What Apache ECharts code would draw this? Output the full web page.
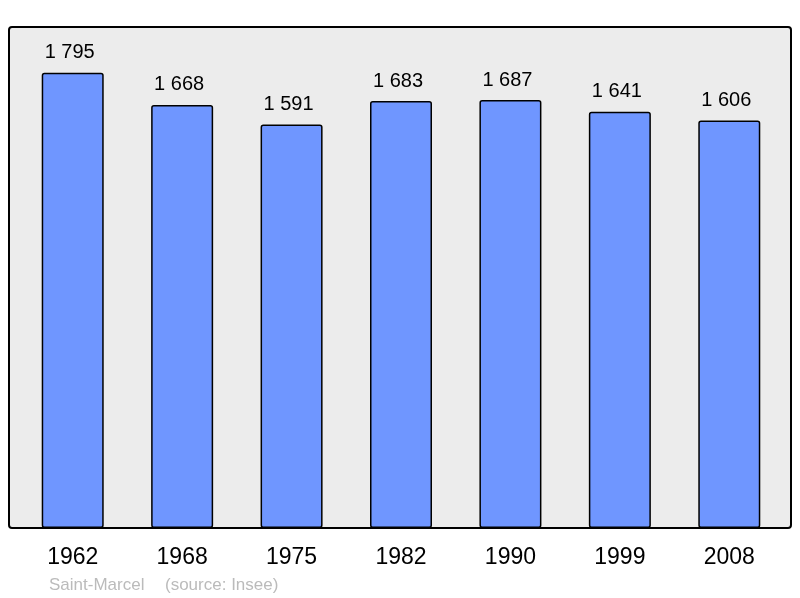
<!DOCTYPE html>
<html>
<head>
<meta charset="utf-8">
<script src="https://cdn.jsdelivr.net/npm/echarts@6/dist/echarts.min.js"></script>
<style>
  html, body { margin: 0; padding: 0; background: #fff; }
  #chart { width: 800px; height: 598px; }
</style>
</head>
<body>
<div id="chart"></div>
<script>
// années des recensements
var years = ['1962', '1968', '1975', '1982', '1990', '1999', '2008'];
// population
var population = [1795, 1668, 1591, 1683, 1687, 1641, 1606];

function formatPop(v) {
    return String(v).replace(/\B(?=(\d{3})+(?!\d))/g, ' ');
}

var chart = echarts.init(document.getElementById('chart'));

chart.setOption({
    animation: false,
    textStyle: { fontFamily: 'Liberation Sans, Arial, sans-serif' },
    graphic: [
        {
            type: 'rect',
            z: -10,
            shape: { x: 9, y: 27, width: 782, height: 501, r: 3 },
            style: { fill: '#ececec', stroke: '#000', lineWidth: 2 }
        },
        {
            type: 'text',
            left: 49, top: 577,
            style: {
                text: 'Saint-Marcel',
                fill: '#bbbbbb',
                font: '17px Liberation Sans, Arial, sans-serif'
            }
        },
        {
            type: 'text',
            left: 165, top: 577,
            style: {
                text: '(source: Insee)',
                fill: '#bbbbbb',
                font: '17px Liberation Sans, Arial, sans-serif'
            }
        }
    ],
    grid: { left: 18, right: 16, top: 27, bottom: 70 },
    xAxis: {
        type: 'category',
        data: years,
        axisLine: { show: false },
        axisTick: { show: false },
        axisLabel: { color: '#000', fontSize: 23, margin: 18 }
    },
    yAxis: {
        type: 'value',
        min: 0,
        max: 1975,
        show: false,
        splitLine: { show: false }
    },
    series: [{
        type: 'bar',
        data: population,
        barWidth: 62,
        itemStyle: {
            color: '#6f96ff',
            borderColor: '#000',
            borderWidth: 1.5,
            borderRadius: 2
        },
        label: {
            show: true,
            position: 'top',
            distance: 10,
            offset: [-3, 0],
            color: '#000',
            fontSize: 20,
            formatter: function (p) { return formatPop(p.value); }
        }
    }]
});
</script>
</body>
</html>
